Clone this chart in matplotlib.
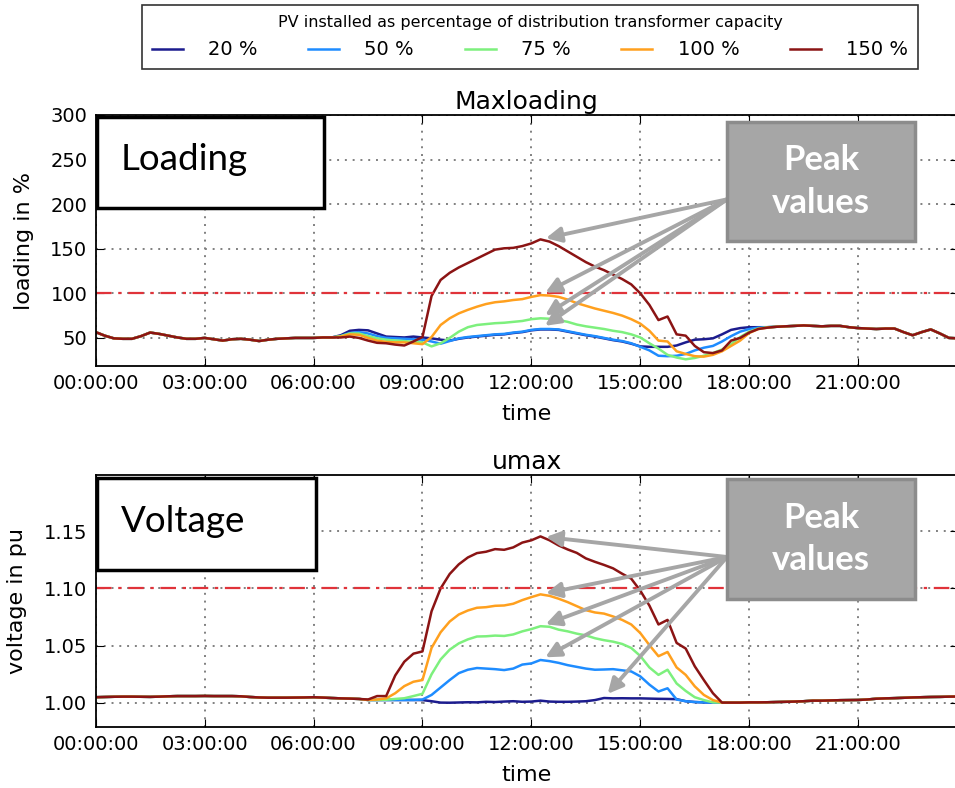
import numpy as np
import matplotlib
matplotlib.use('Agg')
import matplotlib.pyplot as plt
from matplotlib.patches import Rectangle

# time axis in hours, 15 minute resolution
hours = np.arange(96) * 0.25
tick_hours = [0, 3, 6, 9, 12, 15, 18, 21]
tick_labels = ['00:00:00', '03:00:00', '06:00:00', '09:00:00',
               '12:00:00', '15:00:00', '18:00:00', '21:00:00']

pv_labels = ['20 %', '50 %', '75 %', '100 %', '150 %']
pv_colors = ['#1c1c8e', '#1e8cff', '#7df07d', '#ffa01e', '#8b1414']

# ---- max transformer loading in % ----
# 00:00 - 06:30, same for every scenario
load_night = [56.5, 52.5, 49.5, 49, 49, 52, 56, 54.5, 52.5, 50.5, 49, 49, 50,
              48.5, 47, 48.5, 49, 48, 46.5, 48, 49, 49.5, 50, 50, 50, 50.5, 50.5]
# 18:45 - 23:45
load_evening = [62.5, 63, 63.5, 64, 63.5, 63, 63.5, 63.5, 62, 61, 60.5, 60,
                60.5, 60.5, 56.5, 53, 56.5, 59.5, 55, 50, 49.5]
# 06:45 - 18:30
load_day_20 = [53, 58, 59, 58.5, 55, 51.5, 51, 50.5, 51.5, 50.5,
               49.5, 48, 47, 49, 50.5, 51.5, 52.5, 53.5, 54, 55.5,
               56.5, 58.5, 59.5, 59.5, 59, 57, 55, 53, 51.5, 49.5,
               47.5, 46, 43.5, 40.5, 40, 40, 40, 41.5, 45, 48,
               48.5, 49.5, 54, 59, 61, 62, 62, 62]
load_day_50 = [52, 55.5, 56.5, 55, 52, 50, 49.5, 49, 48.5, 48,
               46, 43.5, 46.5, 49.5, 51, 52, 53, 54, 54.5, 56,
               57, 59, 60, 60, 59.5, 57.5, 55.5, 53.5, 52, 50,
               48, 46.5, 44, 40, 36, 30, 29.5, 30, 32, 36,
               39, 41, 46, 52, 57, 60, 61.5, 62]
load_day_75 = [52, 55, 55, 52, 49.5, 48, 47, 46.5, 45.5, 45,
               40.5, 44, 50, 57, 62, 64.5, 65.5, 66.5, 67, 68,
               69, 71, 72, 71.5, 70, 68, 65, 63, 61.5, 60,
               58, 56.5, 54, 50.5, 44, 38, 31, 28, 26, 27.5,
               30, 33, 37, 43, 51, 57, 60.5, 62]
load_day_100 = [51.5, 54, 53.5, 50, 47, 45.5, 45, 45, 44, 43,
                51, 64.5, 72, 77.5, 81.5, 85, 88, 90, 91, 92.5,
                93.5, 96, 98, 97.5, 96, 93, 89, 86, 83, 80.5,
                78, 75, 71, 66, 58, 47, 46, 35, 32, 29.5,
                29, 31, 35, 41, 47, 55.5, 60, 61.5]
load_day_150 = [50.5, 51.5, 50, 47, 44.5, 44, 42.5, 41.5, 46, 51,
                97, 115, 123, 129, 134, 139, 144, 149, 150.5, 151,
                153, 156, 160.5, 158, 153, 147, 141, 135, 130, 126,
                121, 116, 110, 100, 87, 70, 74, 54, 52.5, 41,
                34, 33, 36, 47, 50, 56, 60, 61.5]

# ---- max voltage in pu ----
# 00:00 - 07:15
volt_night = [1.005, 1.0052, 1.0054, 1.0055, 1.0055, 1.0054, 1.0053, 1.0055,
              1.0058, 1.006, 1.006, 1.006, 1.0061, 1.006, 1.006, 1.006,
              1.0058, 1.0052, 1.0048, 1.0046, 1.0046, 1.0046, 1.0047, 1.0048,
              1.005, 1.0047, 1.0043, 1.004, 1.0038, 1.0035]
# 17:30 - 23:45
volt_evening = [1.0003, 1.0003, 1.0005, 1.0005, 1.0006, 1.0008, 1.001, 1.0012,
                1.0015, 1.002, 1.002, 1.0022, 1.0024, 1.0025, 1.0026, 1.003,
                1.0037, 1.004, 1.0042, 1.0045, 1.0048, 1.005, 1.0052, 1.0053,
                1.0055, 1.0056]
# 07:30 - 17:15
volt_day_20 = [1.0026, 1.0026, 1.0026, 1.0026, 1.0026, 1.0026, 1.0025, 1.0015, 1.0003, 1.0002,
               1.0004, 1.0006, 1.0005, 1.001, 1.0008, 1.0012, 1.0015, 1.001, 1.0012, 1.002,
               1.0012, 1.001, 1.001, 1.0012, 1.0015, 1.0025, 1.0043, 1.004, 1.0041, 1.004,
               1.004, 1.0038, 1.0036, 1.0035, 1.0033, 1.0015, 1.0008, 1.0005, 1.0003, 1.0003]
volt_day_50 = [1.0026, 1.0026, 1.0026, 1.0026, 1.0026, 1.0026, 1.003, 1.007, 1.0135, 1.020,
               1.026, 1.029, 1.0305, 1.030, 1.0295, 1.0287, 1.030, 1.0335, 1.0345, 1.0375,
               1.0365, 1.035, 1.033, 1.0315, 1.030, 1.029, 1.0292, 1.0295, 1.0285, 1.0275,
               1.0232, 1.016, 1.010, 1.0128, 1.003, 1.0015, 1.0008, 1.0005, 1.0003, 1.0003]
volt_day_75 = [1.0026, 1.0026, 1.0028, 1.0035, 1.0041, 1.006, 1.008, 1.025, 1.038, 1.0465,
               1.052, 1.0555, 1.058, 1.0582, 1.0588, 1.0585, 1.0598, 1.0625, 1.0645, 1.067,
               1.0665, 1.064, 1.0625, 1.0605, 1.059, 1.0565, 1.0548, 1.0535, 1.0515, 1.048,
               1.041, 1.031, 1.0245, 1.029, 1.017, 1.0105, 1.005, 1.0025, 1.0005, 1.0003]
volt_day_100 = [1.0026, 1.003, 1.004, 1.0085, 1.0147, 1.0185, 1.020, 1.048, 1.0617, 1.0711,
                1.0772, 1.0807, 1.0831, 1.0836, 1.0848, 1.0851, 1.0866, 1.0898, 1.0924, 1.0948,
                1.0935, 1.091, 1.088, 1.0845, 1.081, 1.079, 1.078, 1.0755, 1.0725, 1.0685,
                1.061, 1.0505, 1.0408, 1.0445, 1.031, 1.0245, 1.0145, 1.007, 1.0025, 1.0003]
volt_day_150 = [1.003, 1.006, 1.006, 1.024, 1.036, 1.043, 1.045, 1.080, 1.100, 1.1126,
                1.121, 1.127, 1.1308, 1.132, 1.1343, 1.1337, 1.1358, 1.140, 1.142, 1.1454,
                1.142, 1.1375, 1.134, 1.131, 1.1262, 1.1232, 1.1205, 1.1175, 1.1128, 1.1085,
                1.098, 1.085, 1.0685, 1.0725, 1.0524, 1.0475, 1.032, 1.020, 1.0085, 1.0003]

loading = [load_night + d + load_evening
           for d in (load_day_20, load_day_50, load_day_75, load_day_100, load_day_150)]
voltage = [volt_night + d + volt_evening
           for d in (volt_day_20, volt_day_50, volt_day_75, volt_day_100, volt_day_150)]

load_limit = 100
volt_limit = 1.10

W, H = 955, 788


def fx(x):
    return x / W


def fy(y):
    return 1 - y / H


def main():
    fig = plt.figure(figsize=(W / 100, H / 100), dpi=100)
    ax1 = fig.add_axes([fx(95.7), fy(366), fx(958 - 95.7), (366 - 115) / H])
    ax2 = fig.add_axes([fx(95.7), fy(727), fx(958 - 95.7), (727 - 475) / H])

    handles = []
    for i in range(5):
        h, = ax1.plot(hours, loading[i], color=pv_colors[i], lw=1.8)
        ax2.plot(hours, voltage[i], color=pv_colors[i], lw=1.8)
        handles.append(h)

    ax1.axhline(load_limit, color='#e0333a', ls='-.', lw=1.6, dashes=(7, 3, 1.5, 3))
    ax2.axhline(volt_limit, color='#e0333a', ls='-.', lw=1.6, dashes=(7, 3, 1.5, 3))

    ax1.set_ylim(18.5, 300)
    ax1.set_yticks([50, 100, 150, 200, 250, 300])
    ax2.set_ylim(0.979, 1.199)
    ax2.set_yticks([1.00, 1.05, 1.10, 1.15])
    ax2.set_yticklabels(['1.00', '1.05', '1.10', '1.15'])

    for ax, title, ylab in ((ax1, 'Maxloading', 'loading in %'),
                            (ax2, 'umax', 'voltage in pu')):
        ax.set_xlim(0, 23.75)
        ax.set_xticks(tick_hours)
        ax.set_xticklabels(tick_labels)
        ax.grid(True, color='#808080', ls=(0, (1, 3)), lw=1.4)
        ax.tick_params(direction='in', top=True, right=True, length=6,
                       labelsize=14, pad=6)
        ax.set_title(title, fontsize=18, pad=4)
        ax.set_xlabel('time', fontsize=16, labelpad=8)
        ax.set_ylabel(ylab, fontsize=16, labelpad=12)
        for s in ax.spines.values():
            s.set_linewidth(1.3)
        ax.set_axisbelow(True)

    leg = fig.legend(handles, pv_labels, loc='upper left',
                     bbox_to_anchor=(fx(142), fy(5), fx(918 - 142), 0),
                     mode='expand', ncol=5, fontsize=14,
                     title='PV installed as percentage of distribution transformer capacity',
                     title_fontsize=11.5, fancybox=False, edgecolor='black',
                     borderaxespad=0, handlelength=1.6, handletextpad=1.3,
                     borderpad=0.5, labelspacing=0.55)
    leg.get_frame().set_linewidth(1.2)

    # label boxes on the left
    for (x0, y0, x1, y1), txt in (((97, 117, 324, 208), 'Loading'),
                                  ((97, 478, 316, 570), 'Voltage')):
        fig.patches.append(Rectangle((fx(x0), fy(y1)), fx(x1 - x0), (y1 - y0) / H,
                                     transform=fig.transFigure, facecolor='white',
                                     edgecolor='black', lw=2.5, zorder=5))
        fig.text(fx(121), fy((y0 + y1) / 2 - 3), txt, fontsize=26.5, family='Lato',
                 ha='left', va='center', zorder=6)

    # "Peak values" boxes with arrows to the curve maxima
    day = (hours >= 9) & (hours <= 17)
    for ax, series, idx, box in ((ax1, loading, [4, 3, 2, 1], (727, 122, 915, 241)),
                                 (ax2, voltage, [4, 3, 2, 1, 0], (727, 479, 915, 599))):
        x0, y0, x1, y1 = box
        fig.patches.append(Rectangle((fx(x0), fy(y1)), fx(x1 - x0), (y1 - y0) / H,
                                     transform=fig.transFigure, facecolor='#a6a6a6',
                                     edgecolor='#8c8c8c', lw=2.5, zorder=5))
        fig.text(fx((x0 + x1) / 2), fy((y0 + y1) / 2), 'Peak\nvalues', fontsize=25,
                 family='Lato', weight='bold', color='white', ha='center',
                 va='center', linespacing=1.4, zorder=6)
        start = (x0, H - (y0 + (y1 - y0) * 0.65))
        for i in idx:
            vals = np.array(series[i])
            k = np.flatnonzero(day)[np.argmax(vals[day])]
            ax.annotate('', xy=(hours[k], vals[k]), xycoords='data',
                        xytext=start, textcoords='figure pixels',
                        annotation_clip=False,
                        arrowprops=dict(arrowstyle='-|>,head_length=0.9,head_width=0.45',
                                        color='#a6a6a6', lw=2.8,
                                        shrinkA=0, shrinkB=4))

    fig.savefig('out.png', dpi=100)


if __name__ == '__main__':
    main()
